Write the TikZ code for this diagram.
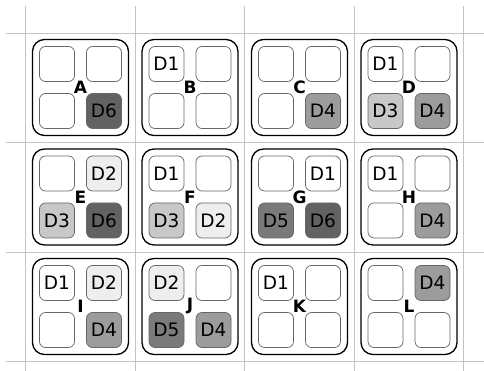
\documentclass[tikz,border=0pt]{standalone}
\usepackage{fontspec}
\setmainfont{DejaVu Sans}
\usepackage{tikz}
\usetikzlibrary{positioning}

\definecolor{toneD1}{HTML}{FFFFFF}
\definecolor{toneD2}{HTML}{EEEEEE}
\definecolor{toneD3}{HTML}{C8C8C8}
\definecolor{toneD4}{HTML}{9C9C9C}
\definecolor{toneD5}{HTML}{7A7A7A}
\definecolor{toneD6}{HTML}{626262}
\definecolor{gridgray}{HTML}{C4C4C4}

% one disk slot: name, x, y, disk label (empty = free slot)
\newcommand{\cellslot}[4]{%
  \def\slotlab{#4}%
  \ifx\slotlab\empty
    \node[disk] (#1) at (#2,#3) {};
  \else
    \node[disk, fill=tone#4] (#1) at (#2,#3) {#4};
  \fi}

% one bay: name, x, y, then top left, top right, bottom left, bottom right
\newcommand{\bay}[7]{%
  \node[baybox] (#1) at (#2,#3) {};
  \cellslot{#1tl}{#2-23.5}{#3-23.5}{#4}
  \cellslot{#1tr}{#2+23.5}{#3-23.5}{#5}
  \cellslot{#1bl}{#2-23.5}{#3+23.5}{#6}
  \cellslot{#1br}{#2+23.5}{#3+23.5}{#7}
  \node[tag] (#1lab) at (#1) {#1};}

\begin{document}
\begin{tikzpicture}[
    x=1pt, y=-1pt,
    baybox/.style={rectangle, draw=black, line width=1.3pt, fill=white,
                   minimum size=96pt, inner sep=0pt, rounded corners=12pt},
    disk/.style={rectangle, draw=black!60, line width=0.7pt, fill=white,
                 minimum size=35pt, inner sep=0pt, rounded corners=6pt,
                 font=\fontsize{18.5}{18.5}\selectfont},
    tag/.style={inner sep=0pt, font=\fontsize{17}{17}\selectfont\bfseries},
    gridline/.style={draw=gridgray, line width=0.9pt}
]
\useasboundingbox (0,0) rectangle (484,371);

% background grid
\foreach \gx in {25.7,135.2,244.7,354.2,463.7}
  \draw[gridline] (\gx,6) -- (\gx,371);
\foreach \gy in {33,142.5,252,361.5}
  \draw[gridline] (6,\gy) -- (484,\gy);

% first row
\bay{A}{80.5}{87.5}{}{}{}{D6}
\bay{B}{190}{87.5}{D1}{}{}{}
\bay{C}{299.5}{87.5}{}{}{}{D4}
\bay{D}{409}{87.5}{D1}{}{D3}{D4}

% second row
\bay{E}{80.5}{197}{}{D2}{D3}{D6}
\bay{F}{190}{197}{D1}{}{D3}{D2}
\bay{G}{299.5}{197}{}{D1}{D5}{D6}
\bay{H}{409}{197}{D1}{}{}{D4}

% third row
\bay{I}{80.5}{306.5}{D1}{D2}{}{D4}
\bay{J}{190}{306.5}{D2}{}{D5}{D4}
\bay{K}{299.5}{306.5}{D1}{}{}{}
\bay{L}{409}{306.5}{}{D4}{}{}
\end{tikzpicture}
\end{document}
